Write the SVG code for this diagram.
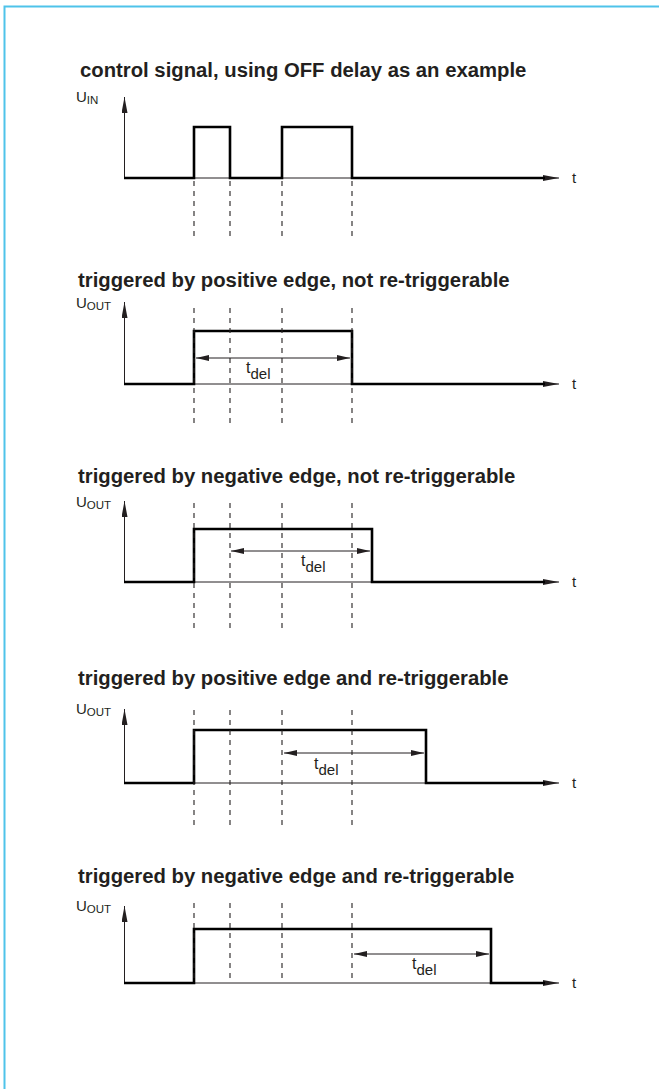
<svg xmlns="http://www.w3.org/2000/svg" width="659" height="1089" viewBox="0 0 659 1089">
<style>
.title{font-family:"Liberation Sans",Arial,sans-serif;font-weight:bold;font-size:20.3px;fill:#231f20}
.lbl{font-family:"Liberation Sans",Arial,sans-serif;font-size:15px;fill:#231f20}
.sub{font-size:11.5px}
.tl{font-family:"Liberation Sans",Arial,sans-serif;font-size:16px;fill:#231f20}
.tsub{font-size:15px}
.axis{stroke:#231f20;stroke-width:1;fill:none}
.sig{stroke:#000;stroke-width:2.6;fill:none;stroke-linejoin:miter}
.dash{stroke:#231f20;stroke-width:1.1;stroke-dasharray:5,5;fill:none}
.dim{stroke:#231f20;stroke-width:1;fill:none}
</style>
<defs>
<marker id="ah" markerUnits="userSpaceOnUse" markerWidth="13" markerHeight="6" refX="13" refY="3" orient="auto-start-reverse" viewBox="0 0 13 6">
<path d="M0,0 L13,3 L0,6 Z" fill="#231f20"/>
</marker>
<marker id="ax" markerUnits="userSpaceOnUse" markerWidth="16" markerHeight="6" refX="16" refY="3" orient="auto" viewBox="0 0 16 6">
<path d="M0,0 L16,3 L0,6 Z" fill="#231f20"/>
</marker>
</defs>
<rect width="659" height="1089" fill="#fff"/>
<path d="M4.5,1089 V6.5 H659" stroke="#4fc3ea" stroke-width="2" fill="none"/>

<g id="section1">
<text class="title" x="80" y="77">control signal, using OFF delay as an example</text>
<text class="lbl" x="76" y="102">U<tspan class="sub" dy="2">IN</tspan></text>
<line class="axis" x1="124.5" y1="178" x2="124.5" y2="97" marker-end="url(#ax)"/>
<line class="axis" x1="124" y1="178" x2="559" y2="178" marker-end="url(#ax)"/>
<path class="sig" d="M124,178 H194 V127 H230 V178 H282 V127 H352 V178 H545"/>
<line class="dash" x1="194" y1="181" x2="194" y2="237"/>
<line class="dash" x1="230" y1="181" x2="230" y2="237"/>
<line class="dash" x1="282" y1="181" x2="282" y2="237"/>
<line class="dash" x1="352" y1="181" x2="352" y2="237"/>
<text class="lbl" x="572" y="183">t</text>
</g>

<g id="section2">
<text class="title" x="78" y="287">triggered by positive edge, not re-triggerable</text>
<text class="lbl" x="76" y="308">U<tspan class="sub" dy="2">OUT</tspan></text>
<line class="axis" x1="124.5" y1="384" x2="124.5" y2="302" marker-end="url(#ax)"/>
<line class="axis" x1="124" y1="384" x2="559" y2="384" marker-end="url(#ax)"/>
<path class="sig" d="M124,384 H194 V331 H352 V384 H545"/>
<line class="dash" x1="194" y1="308" x2="194" y2="427"/>
<line class="dash" x1="230" y1="308" x2="230" y2="427"/>
<line class="dash" x1="282" y1="308" x2="282" y2="427"/>
<line class="dash" x1="352" y1="308" x2="352" y2="427"/>
<line class="dim" x1="196" y1="358" x2="350" y2="358" marker-start="url(#ah)" marker-end="url(#ah)"/>
<text class="tl" x="246" y="373">t<tspan class="tsub" dy="6">del</tspan></text>
<text class="lbl" x="572" y="389">t</text>
</g>

<g id="section3">
<text class="title" x="78" y="483">triggered by negative edge, not re-triggerable</text>
<text class="lbl" x="76" y="507">U<tspan class="sub" dy="2">OUT</tspan></text>
<line class="axis" x1="124.5" y1="582" x2="124.5" y2="501" marker-end="url(#ax)"/>
<line class="axis" x1="124" y1="582" x2="559" y2="582" marker-end="url(#ax)"/>
<path class="sig" d="M124,582 H194 V529 H372 V582 H545"/>
<line class="dash" x1="194" y1="503" x2="194" y2="632"/>
<line class="dash" x1="230" y1="503" x2="230" y2="632"/>
<line class="dash" x1="282" y1="503" x2="282" y2="632"/>
<line class="dash" x1="352" y1="503" x2="352" y2="632"/>
<line class="dim" x1="231" y1="551" x2="370" y2="551" marker-start="url(#ah)" marker-end="url(#ah)"/>
<text class="tl" x="301" y="566">t<tspan class="tsub" dy="6">del</tspan></text>
<text class="lbl" x="572" y="587">t</text>
</g>

<g id="section4">
<text class="title" x="78" y="685">triggered by positive edge and re-triggerable</text>
<text class="lbl" x="76" y="714">U<tspan class="sub" dy="2">OUT</tspan></text>
<line class="axis" x1="124.5" y1="783" x2="124.5" y2="709" marker-end="url(#ax)"/>
<line class="axis" x1="124" y1="783" x2="559" y2="783" marker-end="url(#ax)"/>
<path class="sig" d="M124,783 H194 V730 H426 V783 H545"/>
<line class="dash" x1="194" y1="710" x2="194" y2="830"/>
<line class="dash" x1="230" y1="710" x2="230" y2="830"/>
<line class="dash" x1="282" y1="710" x2="282" y2="830"/>
<line class="dash" x1="352" y1="710" x2="352" y2="830"/>
<line class="dim" x1="284" y1="753" x2="424" y2="753" marker-start="url(#ah)" marker-end="url(#ah)"/>
<text class="tl" x="314" y="769">t<tspan class="tsub" dy="6">del</tspan></text>
<text class="lbl" x="572" y="788">t</text>
</g>

<g id="section5">
<text class="title" x="78" y="883">triggered by negative edge and re-triggerable</text>
<text class="lbl" x="76" y="911">U<tspan class="sub" dy="2">OUT</tspan></text>
<line class="axis" x1="124.5" y1="983" x2="124.5" y2="906" marker-end="url(#ax)"/>
<line class="axis" x1="124" y1="983" x2="559" y2="983" marker-end="url(#ax)"/>
<path class="sig" d="M124,983 H194 V929 H491 V983 H545"/>
<line class="dash" x1="194" y1="903" x2="194" y2="983"/>
<line class="dash" x1="230" y1="903" x2="230" y2="983"/>
<line class="dash" x1="282" y1="903" x2="282" y2="983"/>
<line class="dash" x1="352" y1="903" x2="352" y2="983"/>
<line class="dim" x1="354" y1="954" x2="489" y2="954" marker-start="url(#ah)" marker-end="url(#ah)"/>
<text class="tl" x="412" y="969">t<tspan class="tsub" dy="6">del</tspan></text>
<text class="lbl" x="572" y="988">t</text>
</g>
</svg>
